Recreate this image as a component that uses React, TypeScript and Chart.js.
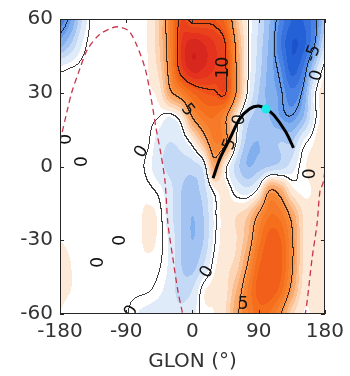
import React, { useEffect, useRef } from "react";
import { Chart, registerables } from "chart.js";

Chart.register(...registerables);

// ---------- data ----------
const gridLon = [-180, -165, -150, -135, -120, -105, -90, -75, -60, -45, -30, -15, 0, 15, 30, 45, 60, 75, 90, 105, 120, 135, 150, 165, 180];
const gridLat = [60, 50, 40, 30, 20, 10, 0, -10, -20, -30, -40, -50, -60];

const rowLat60 = [-6, -4.5, -1.5, 0.3, 0.2, 0.2, 0.2, 0.3, 0.6, 2.5, 6.5, 10.5, 9.5, 9.5, 9.5, 8, 3, 0.3, -1.5, -3.5, -5.8, -7.5, -7.5, -6, -3];
const rowLat50 = [-4, -2.5, -0.5, 0.3, 0.2, 0.2, 0.2, 0.3, 0.6, 2.5, 6.5, 11.5, 13, 12.5, 11.5, 10, 4.5, 0.3, -1.8, -3.8, -6.5, -8.5, -8, -5.5, -1.5];
const rowLat40 = [-0.3, 0, 0.2, 0.2, 0.2, 0.2, 0.2, 0.3, 0.5, 2, 6, 11, 13, 12.5, 11.5, 10.3, 5, 0.3, -2, -4, -5.5, -8, -6.5, -2.5, 0.3];
const rowLat30 = [0.2, 0.2, 0.2, 0.2, 0.2, 0.2, 0.2, 0.3, 0.4, 1, 4.5, 6.5, 8.5, 9.5, 9.8, 10.2, 5, 0, -2.5, -4, -4.8, -6.2, -4.8, -0.5, 1];
const rowLat20 = [0.2, 0.2, 0.2, 0.2, 0.2, 0.2, 0.2, 0.2, 0.2, 0, -0.5, 0.8, 5, 7, 7.5, 5.5, 1, -2, -3, -3.5, -4.5, -4.9, -3.5, -0.5, 1];
const rowLat10 = [0.2, 0.2, 0.2, 0.2, 0.2, 0.2, 0.2, 0.2, 0.1, -1, -1.5, -1, 0.5, 3.5, 6.5, 5.5, 0, -3, -3.5, -3, -2.5, -2.5, -0.5, 0.5, 1.5];
const rowLat0 = [0.2, 0.2, 0.2, 0.2, 0.2, 0.2, 0.2, 0.2, -0.2, -1.2, -1.8, -2, -2, -1, 4, 0.5, -2, -3.5, -3, -2.5, -2, -1, 0.3, 0.8, 0.8];
const rowLatM10 = [0.2, 0.2, 0.2, 0.2, 0.2, 0.2, 0.2, 0.3, 0.2, -0.2, -1.2, -2.5, -3, -2, 0.2, 0.8, -0.5, -1, 0.5, 5, 4, 1, 0.3, 0.6, 0.9];
const rowLatM20 = [0.3, 0.3, 0.2, 0.2, 0.2, 0.2, 0.2, 0.3, 0.7, 0.3, -1.2, -2.5, -3.5, -2.5, -0.3, 1, 1.5, 2.5, 5.3, 7.5, 7, 4.5, 1.5, 0.7, 0.9];
const rowLatM30 = [0.5, 0.4, 0.2, 0.2, 0.2, 0.2, 0.2, 0.3, 0.7, 0.3, -0.8, -2.5, -3.5, -2.5, -0.2, 1, 1.5, 3.5, 7, 9, 8.5, 5.5, 1.5, 0.6, 0.8];
const rowLatM40 = [0.6, 0.5, 0.2, 0.2, 0.2, 0.2, 0.2, 0.3, 0.3, 0.1, -0.8, -2.5, -3, -1.5, 0.3, 1.2, 2, 5, 8.3, 9.3, 8.8, 5.5, 1.5, 0.6, 0.7];
const rowLatM50 = [0.6, 0.5, 0.2, 0.2, 0.2, 0.2, 0.2, 0.2, 0.1, -0.3, -1, -2, -1.5, 0.3, 0.8, 1.2, 3.5, 6.5, 9, 9.3, 8, 4.5, 1.2, 0.6, 0.7];
const rowLatM60 = [0.5, 0.3, 0.2, 0.2, 0.2, 0.2, 0.1, -0.5, -0.8, -1, -1.2, -1.2, -0.8, 0.3, 0.5, 1.5, 4.5, 6.5, 8, 7.5, 5.3, 2, 0.5, 0.6, 0.7];

const fieldRows = [rowLat60, rowLat50, rowLat40, rowLat30, rowLat20, rowLat10, rowLat0, rowLatM10, rowLatM20, rowLatM30, rowLatM40, rowLatM50, rowLatM60];

const contourLevels = [-5, 0, 5, 10];

const terminatorWestLon = [-180, -170.7, -164, -153.3, -142.7, -126.7, -109.3, -100, -86.7, -76, -64, -56, -49.3, -42.7, -37.3, -33.3, -26.7, -20, -13.3];
const terminatorWestLat = [10.1, 22.1, 30.2, 39.5, 47.6, 53.6, 56.4, 56.8, 55.2, 49.5, 39.5, 27.4, 15.3, 4.8, -6, -23.4, -37.1, -50.3, -60];
const terminatorEastLon = [180, 177.3, 173.3, 169.3, 162.7, 156, 153.3];
const terminatorEastLat = [-2, -6.9, -10, -23.4, -37, -54.4, -60];

const trackLon = [28, 37.3, 50.7, 64, 77.3, 89.3, 100, 110.7, 126.7, 137.3];
const trackLat = [-4.8, 3.2, 11.3, 19.3, 23.4, 24.6, 23.4, 20.9, 14.1, 7.6];
const markerLon = [100];
const markerLat = [23.4];

const xTicks = [-180, -90, 0, 90, 180];
const yTicks = [-60, -30, 0, 30, 60];

const labelText = ["10", "5", "0", "5", "-5", "0", "0", "0", "5", "0", "0", "0", "0", "0", "0"];
const labelLon = [42.7, -6.7, 64, 51, 164, 169, 160, 20, 69, -171, -149, -69, -127, -97, -83];
const labelLat = [40.3, 23, 19, 9, 46, 37, -3, -43, -56, 11, 2, 6, -39, -30, -59];
const labelAngle = [-90, 50, -80, -70, -70, -75, -90, -60, 0, -90, -90, -60, -90, -90, -60];

// ---------- helpers ----------
const FONT = "'DejaVu Sans', 'Noto Sans', sans-serif";

function cr(p0: number, p1: number, p2: number, p3: number, t: number): number {
  return 0.5 * (2 * p1 + (-p0 + p2) * t + (2 * p0 - 5 * p1 + 4 * p2 - p3) * t * t + (-p0 + 3 * p1 - 3 * p2 + p3) * t * t * t);
}

function cell(j: number, i: number): number {
  const ny = fieldRows.length, nx = gridLon.length;
  const jj = Math.max(0, Math.min(ny - 1, j));
  const ii = Math.max(0, Math.min(nx - 1, i));
  return fieldRows[jj][ii];
}

function sampleField(lon: number, lat: number): number {
  const nx = gridLon.length, ny = gridLat.length;
  let fx = (lon - gridLon[0]) / (gridLon[1] - gridLon[0]);
  let fy = (gridLat[0] - lat) / (gridLat[0] - gridLat[1]);
  fx = Math.max(0, Math.min(nx - 1.0001, fx));
  fy = Math.max(0, Math.min(ny - 1.0001, fy));
  const i = Math.floor(fx), j = Math.floor(fy);
  const tx = fx - i, ty = fy - j;
  const rows: number[] = [];
  for (let k = -1; k <= 2; k++) {
    rows.push(cr(cell(j + k, i - 1), cell(j + k, i), cell(j + k, i + 1), cell(j + k, i + 2), tx));
  }
  return cr(rows[0], rows[1], rows[2], rows[3], ty);
}

const stopV = [-10, -8, -6, -4, -2, -1, 0, 1, 2, 4, 6, 8, 10, 12, 14];
const stopC = [
  [20, 70, 195], [36, 96, 214], [72, 130, 228], [130, 176, 238], [196, 217, 246], [224, 235, 250],
  [255, 255, 255],
  [253, 233, 216], [252, 214, 182], [249, 170, 110], [247, 134, 52], [244, 110, 28], [238, 80, 26], [228, 50, 30], [205, 28, 26],
];

function colorFor(v: number): number[] {
  const k = Math.round(v);
  if (k <= stopV[0]) return stopC[0];
  if (k >= stopV[stopV.length - 1]) return stopC[stopC.length - 1];
  for (let s = 0; s < stopV.length - 1; s++) {
    if (k >= stopV[s] && k <= stopV[s + 1]) {
      const t = (k - stopV[s]) / (stopV[s + 1] - stopV[s]);
      const c0 = stopC[s], c1 = stopC[s + 1];
      return [c0[0] + (c1[0] - c0[0]) * t, c0[1] + (c1[1] - c0[1]) * t, c0[2] + (c1[2] - c0[2]) * t];
    }
  }
  return [255, 255, 255];
}

const fieldPlugin = {
  id: "fieldPlugin",
  beforeDatasetsDraw(chart: any) {
    const { ctx, chartArea: a, scales } = chart;
    const xs = scales.x, ys = scales.y;
    const w = Math.round(a.right - a.left), h = Math.round(a.bottom - a.top);
    const vals = new Float32Array(w * h);
    for (let py = 0; py < h; py++) {
      const lat = ys.getValueForPixel(a.top + py + 0.5);
      for (let px = 0; px < w; px++) {
        const lon = xs.getValueForPixel(a.left + px + 0.5);
        vals[py * w + px] = sampleField(lon, lat);
      }
    }
    const off = document.createElement("canvas");
    off.width = w; off.height = h;
    const octx = off.getContext("2d")!;
    const img = octx.createImageData(w, h);
    const d = img.data;
    for (let py = 0; py < h; py++) {
      for (let px = 0; px < w; px++) {
        const p = py * w + px;
        const v = vals[p];
        let c = colorFor(v);
        let line = false;
        for (const L of contourLevels) {
          const s = v > L;
          if (px + 1 < w && (vals[p + 1] > L) !== s) line = true;
          if (py + 1 < h && (vals[p + w] > L) !== s) line = true;
        }
        if (line) c = [c[0] * 0.2 + 8, c[1] * 0.2 + 8, c[2] * 0.2 + 8];
        d[p * 4] = c[0]; d[p * 4 + 1] = c[1]; d[p * 4 + 2] = c[2]; d[p * 4 + 3] = 255;
      }
    }
    octx.putImageData(img, 0, 0);
    ctx.save();
    ctx.drawImage(off, a.left, a.top);
    // contour labels
    ctx.beginPath();
    ctx.rect(a.left, a.top, a.right - a.left, a.bottom - a.top);
    ctx.clip();
    ctx.fillStyle = "#111";
    ctx.font = `17px ${FONT}`;
    ctx.textAlign = "center";
    ctx.textBaseline = "middle";
    for (let i = 0; i < labelText.length; i++) {
      const x = xs.getPixelForValue(labelLon[i]);
      const y = ys.getPixelForValue(labelLat[i]);
      ctx.save();
      ctx.translate(x, y);
      ctx.rotate((labelAngle[i] * Math.PI) / 180);
      ctx.fillText(labelText[i], 0, 0);
      ctx.restore();
    }
    ctx.restore();
  },
};

const framePlugin = {
  id: "framePlugin",
  afterDatasetsDraw(chart: any) {
    const { ctx, chartArea: a, scales } = chart;
    ctx.save();
    ctx.strokeStyle = "#262626";
    ctx.lineWidth = 1;
    ctx.strokeRect(Math.round(a.left) + 0.5, Math.round(a.top) + 0.5, Math.round(a.right - a.left) - 1, Math.round(a.bottom - a.top) - 1);
    const tl = 4;
    ctx.beginPath();
    for (const v of xTicks) {
      const x = Math.round(scales.x.getPixelForValue(v)) + 0.5;
      ctx.moveTo(x, a.bottom); ctx.lineTo(x, a.bottom - tl);
      ctx.moveTo(x, a.top); ctx.lineTo(x, a.top + tl);
    }
    for (const v of yTicks) {
      const y = Math.round(scales.y.getPixelForValue(v)) + 0.5;
      ctx.moveTo(a.left, y); ctx.lineTo(a.left + tl, y);
      ctx.moveTo(a.right, y); ctx.lineTo(a.right - tl, y);
    }
    ctx.stroke();
    ctx.restore();
  },
};

function pts(lons: number[], lats: number[]) {
  return lons.map((x, i) => ({ x, y: lats[i] }));
}

export default function App() {
  const ref = useRef<HTMLCanvasElement | null>(null);
  useEffect(() => {
    if (!ref.current) return;
    const chart = new Chart(ref.current, {
      type: "scatter",
      data: {
        datasets: [
          {
            data: pts(markerLon, markerLat),
            pointRadius: 4.5,
            pointBackgroundColor: "#1ee8e8",
            pointBorderWidth: 0,
            showLine: false,
          } as any,
          {
            data: pts(trackLon, trackLat),
            showLine: true,
            borderColor: "#000",
            borderWidth: 3,
            pointRadius: 0,
            tension: 0.3,
          },
          {
            data: pts(terminatorWestLon, terminatorWestLat),
            showLine: true,
            borderColor: "#c8354b",
            borderWidth: 1.3,
            borderDash: [6, 4],
            pointRadius: 0,
            tension: 0.3,
          },
          {
            data: pts(terminatorEastLon, terminatorEastLat),
            showLine: true,
            borderColor: "#c8354b",
            borderWidth: 1.3,
            borderDash: [6, 4],
            pointRadius: 0,
            tension: 0.3,
          },
        ],
      },
      options: {
        animation: false,
        responsive: false,
        devicePixelRatio: 1,
        layout: { padding: { top: 16, right: 20, left: 0, bottom: 0 } },
        plugins: { legend: { display: false }, tooltip: { enabled: false } },
        scales: {
          x: {
            type: "linear",
            min: -180,
            max: 180,
            afterBuildTicks: (s: any) => { s.ticks = xTicks.map((v) => ({ value: v })); },
            afterFit: (s: any) => { s.height = 62; },
            grid: { display: false, drawTicks: false },
            border: { display: false },
            ticks: { font: { family: FONT, size: 20 }, color: "#333", padding: 6, maxRotation: 0, autoSkip: false },
            title: { display: true, text: "GLON (°)", font: { family: FONT, size: 20 }, color: "#333", padding: { top: 0, bottom: 2 } },
          },
          y: {
            type: "linear",
            min: -60,
            max: 60,
            afterBuildTicks: (s: any) => { s.ticks = yTicks.map((v) => ({ value: v })); },
            afterFit: (s: any) => { s.width = 60; },
            grid: { display: false, drawTicks: false },
            border: { display: false },
            ticks: { font: { family: FONT, size: 20 }, color: "#333", padding: 7, autoSkip: false },
          },
        },
      },
      plugins: [fieldPlugin, framePlugin],
    });
    return () => chart.destroy();
  }, []);
  return (
    <div style={{ position: "fixed", left: 0, top: 0, width: 350, height: 376, background: "#fff" }}>
      <canvas ref={ref} width={350} height={376} style={{ display: "block" }} />
    </div>
  );
}
